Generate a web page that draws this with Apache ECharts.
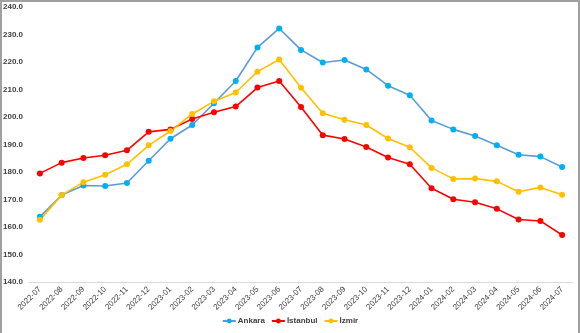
<!DOCTYPE html>
<html><head><meta charset="utf-8">
<script src="https://cdn.jsdelivr.net/npm/echarts@6/dist/echarts.min.js"></script>
<style>
html,body{margin:0;padding:0;background:#fff;}
#wrap{position:relative;width:580px;height:333px;}
#chart{position:absolute;left:0;top:0;width:580px;height:333px;}
#border{position:absolute;left:0;top:0;width:580px;height:333px;border-left:2px solid #a0a0a0;border-top:2px solid #a0a0a0;border-right:2px solid #a0a0a0;box-sizing:border-box;pointer-events:none;}
</style></head>
<body>
<div id="wrap"><div id="chart"></div><div id="border"></div></div>
<script>
const categories = ["2022-07","2022-08","2022-09","2022-10","2022-11","2022-12","2023-01","2023-02","2023-03","2023-04","2023-05","2023-06","2023-07","2023-08","2023-09","2023-10","2023-11","2023-12","2024-01","2024-02","2024-03","2024-04","2024-05","2024-06","2024-07"];
const ankara =   [163.7,171.6,175.1,174.9,176.0,184.1,192.1,197.1,205.0,213.1,225.3,232.2,224.4,219.8,220.7,217.3,211.4,207.9,198.7,195.5,193.1,189.7,186.3,185.6,181.8];
const istanbul = [179.5,183.4,185.1,186.1,187.9,194.6,195.5,199.3,201.7,203.8,210.7,213.1,203.6,193.4,192.0,189.1,185.3,182.8,174.1,170.1,169.0,166.6,162.7,162.2,157.1];
const izmir =    [162.6,171.6,176.3,179.0,182.8,189.7,194.9,201.1,205.7,208.9,216.5,220.9,210.6,201.4,199.0,197.1,192.2,189.0,181.5,177.5,177.6,176.6,172.8,174.4,171.7];
const seriesNames = ["Ankara","İstanbul","İzmir"];

const FONT = "'Liberation Sans','Arial',sans-serif";
const chart = echarts.init(document.getElementById('chart'), null, {renderer:'canvas'});
function mk(name, data, lineColor, dotColor){
  return {name:name, type:'line', data:data, symbol:'circle', symbolSize:6,
    lineStyle:{color:lineColor, width:1.6}, itemStyle:{color:dotColor}, animation:false};
}
chart.setOption({
  animation:false,
  grid:{left:28, right:7, top:7, bottom:51, containLabel:false},
  legend:{bottom:3, left:'center', itemWidth:13, itemHeight:6, itemGap:6,
    textStyle:{fontFamily:FONT, fontSize:8, color:'#404040', fontWeight:'bold', padding:[0,0,0,-3]},
    data:seriesNames},
  xAxis:{type:'category', data:categories, boundaryGap:true,
    axisLine:{lineStyle:{color:'#d9d9d9', width:1}}, axisTick:{show:false},
    axisLabel:{rotate:45, interval:0, fontFamily:FONT, fontSize:8, color:'#404040', margin:6}},
  yAxis:{type:'value', min:140, max:240, interval:10,
    axisLine:{show:false}, axisTick:{show:false}, splitLine:{show:false},
    axisLabel:{formatter:v=>v.toFixed(1), fontFamily:FONT, fontSize:8, color:'#404040', fontWeight:'bold', margin:6}},
  series:[
    mk(seriesNames[0], ankara, '#5B9BD5', '#00B0F0'),
    mk(seriesNames[1], istanbul, '#FF0000', '#FF0000'),
    mk(seriesNames[2], izmir, '#FFC000', '#FFC000')
  ]
});
</script>
</body></html>
